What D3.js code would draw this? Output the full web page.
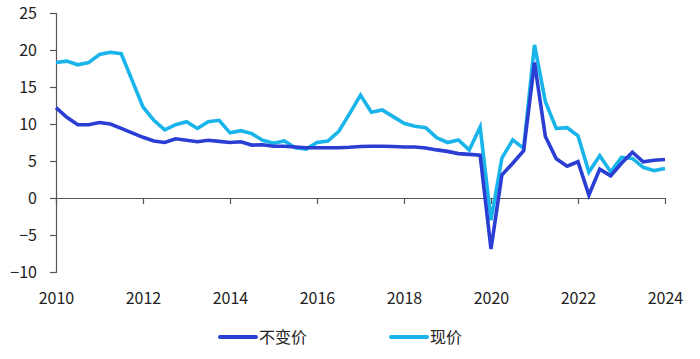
<!DOCTYPE html>
<html>
<head>
<meta charset="utf-8">
<script src="https://cdn.jsdelivr.net/npm/d3@7/dist/d3.min.js"></script>
<style>
  html, body { margin: 0; padding: 0; background: #fff; }
  svg { display: block; }
  text { font-family: "Noto Sans CJK SC", "Noto Sans", sans-serif; fill: #222; }
</style>
</head>
<body>
<svg id="chart" width="700" height="359"></svg>
<script>
// Quarters 2010Q1 .. 2024Q1 (decimal year position of each quarter)
const quarters = [
  2010.00, 2010.25, 2010.50, 2010.75,
  2011.00, 2011.25, 2011.50, 2011.75,
  2012.00, 2012.25, 2012.50, 2012.75,
  2013.00, 2013.25, 2013.50, 2013.75,
  2014.00, 2014.25, 2014.50, 2014.75,
  2015.00, 2015.25, 2015.50, 2015.75,
  2016.00, 2016.25, 2016.50, 2016.75,
  2017.00, 2017.25, 2017.50, 2017.75,
  2018.00, 2018.25, 2018.50, 2018.75,
  2019.00, 2019.25, 2019.50, 2019.75,
  2020.00, 2020.25, 2020.50, 2020.75,
  2021.00, 2021.25, 2021.50, 2021.75,
  2022.00, 2022.25, 2022.50, 2022.75,
  2023.00, 2023.25, 2023.50, 2023.75,
  2024.00
];

// 不变价 (constant price, yoy %)
const constantPrice = [
  12.2, 10.9, 9.9, 9.9,
  10.2, 10.0, 9.4, 8.8,
  8.2, 7.7, 7.5, 8.0,
  7.8, 7.6, 7.8, 7.65,
  7.5, 7.6, 7.15, 7.2,
  7.0, 7.0, 6.9, 6.8,
  6.8, 6.8, 6.8, 6.85,
  6.95, 7.0, 7.0, 6.95,
  6.9, 6.9, 6.75, 6.5,
  6.3, 6.0, 5.9, 5.8,
  -6.9, 3.1, 4.7, 6.4,
  18.3, 8.3, 5.3, 4.3,
  4.9, 0.4, 3.9, 3.0,
  4.7, 6.2, 4.9, 5.1,
  5.2
];

// 现价 (current price, yoy %)
const currentPrice = [
  18.3, 18.5, 18.0, 18.3,
  19.4, 19.7, 19.5, 15.9,
  12.3, 10.5, 9.2, 9.9,
  10.3, 9.4, 10.3, 10.5,
  8.8, 9.1, 8.7, 7.8,
  7.4, 7.7, 6.8, 6.6,
  7.5, 7.7, 9.0, 11.4,
  13.9, 11.6, 11.9, 11.0,
  10.1, 9.7, 9.5, 8.15,
  7.5, 7.85, 6.5, 9.6,
  -3.0, 5.4, 7.85, 6.7,
  20.7, 13.0, 9.4, 9.5,
  8.4, 3.5, 5.7, 3.55,
  5.5, 5.35, 4.15, 3.7,
  4.0
];

const xTicks = [2010, 2012, 2014, 2016, 2018, 2020, 2022, 2024];
const yTicks = [-10, -5, 0, 5, 10, 15, 20, 25];

const seriesNames = ["不变价", "现价"];
const seriesColors = ["#2a3ed4", "#18b4ea"];

const svg = d3.select("#chart");

const x = d3.scaleLinear().domain([2010, 2024]).range([56, 665]);
const y = d3.scaleLinear().domain([-10, 25]).range([272, 13]);

// Y axis
const yAxis = svg.append("g")
  .attr("transform", "translate(56,0)")
  .call(d3.axisLeft(y).tickValues(yTicks).tickSize(6).tickPadding(13).tickFormat(d3.format("d")));
yAxis.select(".domain").attr("stroke", "#555").attr("stroke-width", 1.2);
yAxis.selectAll(".tick line").attr("stroke", "#555").attr("stroke-width", 1.2);
yAxis.selectAll("text")
  .style("font-family", '"Noto Sans CJK SC", "Noto Sans", sans-serif')
  .style("font-size", "16px").attr("fill", "#222");

// X axis at zero line, labels at the bottom
const xAxis = svg.append("g")
  .attr("transform", `translate(0,${y(0)})`)
  .call(d3.axisBottom(x).tickValues(xTicks).tickSize(6).tickPadding(89).tickFormat(d3.format("d")).tickSizeOuter(0));
xAxis.select(".domain").attr("stroke", "#555").attr("stroke-width", 1.2);
xAxis.selectAll(".tick line").attr("stroke", "#555").attr("stroke-width", 1.2);
xAxis.selectAll("text")
  .style("font-family", '"Noto Sans CJK SC", "Noto Sans", sans-serif')
  .style("font-size", "16px").attr("fill", "#222");

// Lines
const line = d3.line()
  .x((d, i) => x(quarters[i]))
  .y(d => y(d));

const allSeries = [constantPrice, currentPrice];
// draw current price first, constant price on top
[1, 0].forEach(k => {
  svg.append("path")
    .datum(allSeries[k])
    .attr("fill", "none")
    .attr("stroke", seriesColors[k])
    .attr("stroke-width", 3.6)
    .attr("stroke-linejoin", "miter")
    .attr("d", line);
});

// Legend
const legendX = [220, 391];
seriesNames.forEach((name, k) => {
  const g = svg.append("g").attr("transform", `translate(${legendX[k]},337)`);
  g.append("line").attr("x1", 0).attr("x2", 36).attr("y1", 0).attr("y2", 0)
    .attr("stroke", seriesColors[k]).attr("stroke-width", 4).attr("stroke-linecap", "round");
  g.append("text").attr("x", 39).attr("y", 0).attr("dy", "0.35em")
    .style("font-size", "16px").text(name);
});
</script>
</body>
</html>
